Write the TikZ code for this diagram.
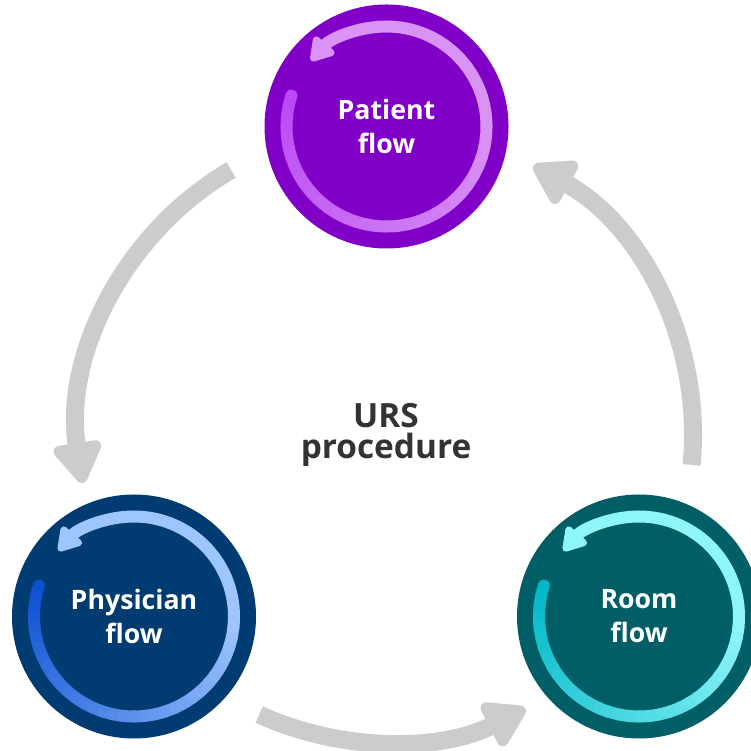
\documentclass[tikz,border=0pt]{standalone}
\usepackage{fontspec}
\setmainfont{Open Sans}
\usepackage{tikz}
\usetikzlibrary{arrows.meta}

\definecolor{patientbg}{RGB}{128,0,200}
\definecolor{patientdark}{RGB}{186,74,245}
\definecolor{patientlight}{RGB}{217,147,245}
\definecolor{physicianbg}{RGB}{0,59,113}
\definecolor{physiciandark}{RGB}{12,80,210}
\definecolor{physicianlight}{RGB}{157,197,255}
\definecolor{roombg}{RGB}{0,95,102}
\definecolor{roomdark}{RGB}{0,183,199}
\definecolor{roomlight}{RGB}{142,246,250}
\definecolor{linkgray}{RGB}{204,204,204}
\definecolor{hubtext}{RGB}{51,51,51}

\begin{document}
\begin{tikzpicture}
		[flow/.style={circle, minimum size=2.44cm, inner sep=0pt, text=white, align=center, font=\bfseries\fontsize{7.6}{9.7}\selectfont},
		 hub/.style={text=hubtext, align=center, font=\bfseries\fontsize{9.5}{9}\selectfont},
		 link/.style={draw=linkgray, line width=0.18cm, -{Triangle[width=0.54cm, length=0.46cm, round]}},
		 ring/.style={line width=0.12cm, line cap=round}]
		\useasboundingbox (0,0) rectangle (7.51,7.51);
		\node[hub] (urs) at (3.86,3.16) {URS\\procedure};
		\node[flow, fill=patientbg] (patient) at (3.865,6.245) {Patient\\flow};
		\node[flow, fill=physicianbg] (physician) at (1.34,1.345) {Physician\\flow};
		\node[flow, fill=roombg] (room) at (6.39,1.345) {Room\\flow};

		% big grey arrows round the hub
		\draw[link] (urs.center) ++(120.3:3.07) arc[start angle=120.3, end angle=189, radius=3.07];
		\draw[link] (urs.center) ++(245.6:3.07) arc[start angle=245.6, end angle=297, radius=3.07];
		\draw[link] (urs.center) ++(-5.6:3.07) arc[start angle=-5.6, end angle=61.3, radius=3.07];

		% rings inside the flows
		\foreach \n/\dk/\lt in {patient/patientdark/patientlight, physician/physiciandark/physicianlight, room/roomdark/roomlight} {
			\foreach \a [evaluate=\a as \p using {int((\a-162)/1.92)}] in {162,168,...,354}
				\draw[ring, draw=\lt!\p!\dk] (\n.center) ++(\a:1) arc[start angle=\a, delta angle=6, radius=1];
			\draw[ring, draw=\lt, -{Triangle[width=0.30cm, length=0.26cm, round]}] (\n.center) ++(360:1) arc[start angle=360, end angle=499, radius=1];
		}
	\end{tikzpicture}
\end{document}
